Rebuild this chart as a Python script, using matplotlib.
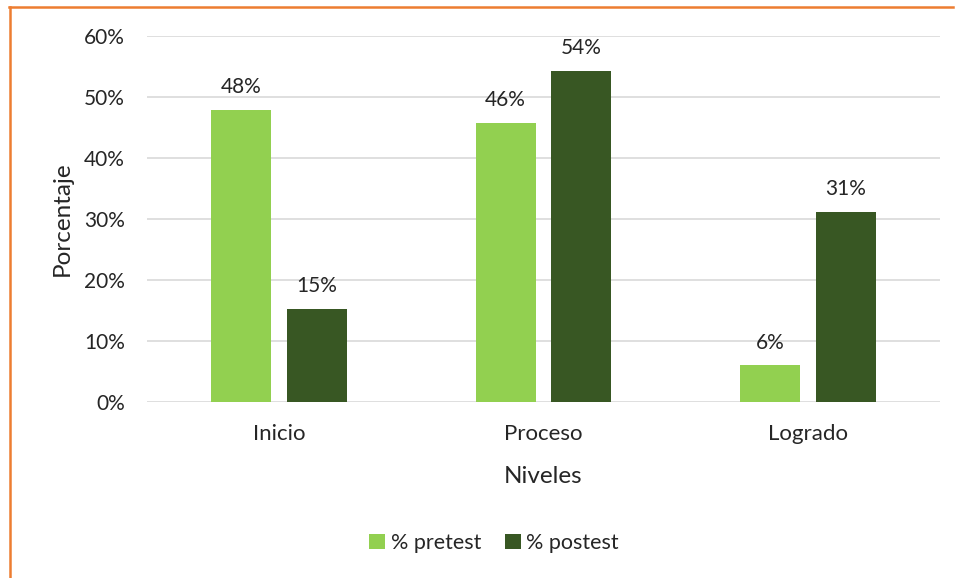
import matplotlib
matplotlib.use("Agg")
import matplotlib.pyplot as plt
from matplotlib.lines import Line2D
import numpy as np

categories = ["Inicio", "Proceso", "Logrado"]
pretest = [47.9, 45.8, 6.0]
postest = [15.2, 54.3, 31.1]
series_names = ["% pretest", "% postest"]

plt.rcParams['font.family'] = ['Lato', 'DejaVu Sans']

W, H = 957, 578
fig = plt.figure(figsize=(W/100, H/100), dpi=100)
ax = fig.add_axes([147/W, 1-402/H, (940-147)/W, (402-36)/H])

x = np.arange(len(categories))
bw = 0.227
off = 0.1435
c1, c2 = "#92D050", "#385723"
b1 = ax.bar(x - off, pretest, bw, color=c1, label=series_names[0], zorder=3)
b2 = ax.bar(x + off, postest, bw, color=c2, label=series_names[1], zorder=3)

for bars, vals in ((b1, pretest), (b2, postest)):
    for r, v in zip(bars, vals):
        ax.text(r.get_x() + r.get_width()/2, v + 2.1, f"{v:.0f}%", ha="center", va="bottom",
                fontsize=15, color="#262626")

ax.set_xlim(-0.5, 2.5)
ax.set_ylim(0, 60)
ax.set_yticks(np.arange(0, 61, 10))
ax.set_yticklabels([f"{t}%" for t in range(0, 61, 10)])
ax.set_xticks(x)
ax.set_xticklabels(categories)
ax.tick_params(axis="both", length=0, labelsize=15, colors="#262626")
ax.tick_params(axis="x", labelsize=16)
ax.tick_params(axis="y", pad=16)
ax.tick_params(axis="x", pad=16)
ax.grid(axis="y", color="#D9D9D9", linewidth=1.2, zorder=0)
for s in ax.spines.values():
    s.set_visible(False)

ax.set_ylabel("Porcentaje", fontsize=17.5, color="#262626", labelpad=8)
ax.set_xlabel("Niveles", fontsize=17.5, color="#262626", labelpad=16)

leg = fig.legend(handles=[b1, b2], labels=series_names, loc="center", bbox_to_anchor=(494/W, 1-543/H),
                 ncol=2, frameon=False, fontsize=15.5, handlelength=0.75, handleheight=0.75,
                 handletextpad=0.25, columnspacing=1.1)
for t in leg.get_texts():
    t.set_color("#262626")

fig.add_artist(Line2D([9/W, 953/W], [1-6.5/H, 1-6.5/H], color="#ED7D31", linewidth=1.8, transform=fig.transFigure))
fig.add_artist(Line2D([9.5/W, 9.5/W], [0, 1-6.5/H], color="#ED7D31", linewidth=1.8, transform=fig.transFigure))

fig.savefig("out.png", dpi=100)
